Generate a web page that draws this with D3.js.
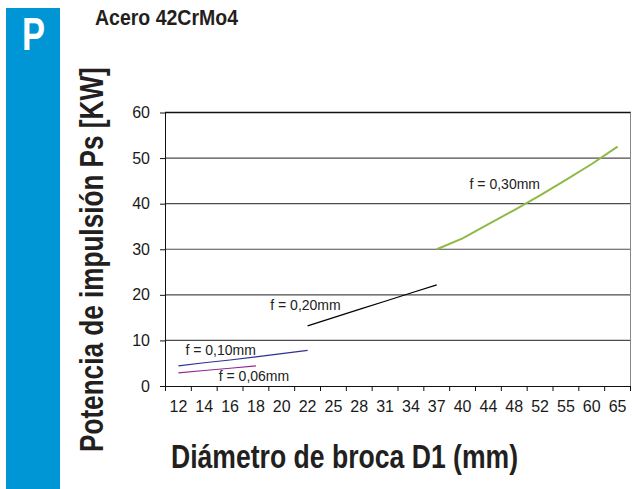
<html>
<head>
<title>Acero 42CrMo4</title>
<script src="https://d3js.org/d3.v7.min.js"></script>
<style>
    body {
        margin: 0;
        background: white;
        font-family: 'Liberation Sans', Arial, sans-serif;
    }
    svg { display: block; }
    .tick text { font-size: 16px; fill: #1a1a1a; font-family: 'Liberation Sans', Arial, sans-serif; }
</style>
</head>
<body>
<div id="chart"></div>

<script>

// drill diameters (x categories)
var diametros = ["12", "14", "16", "18", "20", "22", "25", "28", "31", "34", "37", "40", "44", "48", "52", "55", "60", "65"];

// power values per feed, null where the series has no value
var f006 = [2.9, 3.4, 3.9, 4.4, null, null, null, null, null, null, null, null, null, null, null, null, null, null];
var f010 = [4.4, 5.1, 5.7, 6.4, 7.1, 7.8, null, null, null, null, null, null, null, null, null, null, null, null];
var f020 = [null, null, null, null, null, 13.2, 15.0, 16.8, 18.6, 20.4, 22.2, null, null, null, null, null, null, null];
var f030 = [null, null, null, null, null, null, null, null, null, null, 30.0, 32.4, 35.5, 38.6, 41.8, 45.2, 48.7, 52.5];

var yTicks = [0, 10, 20, 30, 40, 50, 60];

var svg = d3.select("#chart")
    .append("svg")
    .attr("width", 632)
    .attr("height", 489);

// blue side band with the P
svg.append("rect")
    .attr("x", 6)
    .attr("y", 8)
    .attr("width", 54)
    .attr("height", 481)
    .style("fill", "#0096d6");

svg.append("text")
    .attr("x", 22)
    .attr("y", 50)
    .attr("textLength", 23)
    .attr("lengthAdjust", "spacingAndGlyphs")
    .style("font-size", "46px")
    .style("font-weight", "bold")
    .style("fill", "white")
    .text("P");

// title
svg.append("text")
    .attr("x", 95)
    .attr("y", 25)
    .attr("textLength", 143)
    .attr("lengthAdjust", "spacingAndGlyphs")
    .style("font-size", "22px")
    .style("font-weight", "bold")
    .style("fill", "#231f20")
    .text("Acero 42CrMo4");

// scales
var x = d3.scaleBand()
    .domain(diametros)
    .range([165.5, 630.5]);

var y = d3.scaleLinear()
    .domain([0, 60])
    .range([386, 112.5]);

var cx = function(d) { return x(d) + x.bandwidth() / 2; };

// grid lines
svg.selectAll(".grid")
    .data(yTicks.filter(function(t) { return t > 0 && t < 60; }))
    .enter().append("line")
    .attr("class", "grid")
    .attr("x1", 165)
    .attr("x2", 631)
    .attr("y1", function(d) { return y(d); })
    .attr("y2", function(d) { return y(d); })
    .style("stroke", "#4d4d4d")
    .style("stroke-width", "1.2px");

// plot border top + right
svg.append("line")
    .attr("x1", 165)
    .attr("x2", 631)
    .attr("y1", y(60))
    .attr("y2", y(60))
    .style("stroke", "#111")
    .style("stroke-width", "1.6px");

svg.append("line")
    .attr("x1", 630.5)
    .attr("x2", 630.5)
    .attr("y1", y(60))
    .attr("y2", y(0))
    .style("stroke", "#888")
    .style("stroke-width", "1px");

// y axis
var leftAxis = d3.axisLeft(y).tickValues(yTicks).tickSize(5).tickSizeOuter(0).tickPadding(10);
svg.append("g")
    .attr("transform", "translate(165,0)")
    .call(leftAxis)
    .call(function(g) {
        g.selectAll("line, path").style("stroke", "#111");
    });

// x axis, labels at centers, ticks at category edges
var bottomAxis = d3.axisBottom(x).tickSize(0).tickPadding(15);
svg.append("g")
    .attr("transform", "translate(0,386)")
    .call(bottomAxis)
    .call(function(g) {
        g.select(".domain").style("stroke", "#111");
    });

svg.selectAll(".xtick")
    .data(diametros.map(function(d) { return x(d); }).concat([x.range()[1]]))
    .enter().append("line")
    .attr("class", "xtick")
    .attr("x1", function(d) { return d; })
    .attr("x2", function(d) { return d; })
    .attr("y1", 386)
    .attr("y2", 391)
    .style("stroke", "#111");

// series lines
var series = [
    { vals: f006, color: "#93278f", width: 1.2 },
    { vals: f010, color: "#2e3192", width: 1.2 },
    { vals: f020, color: "#000000", width: 1.2 },
    { vals: f030, color: "#8fba45", width: 2 }
];

var line = d3.line()
    .defined(function(d) { return d.v != null; })
    .x(function(d) { return cx(d.c); })
    .y(function(d) { return y(d.v); });

series.forEach(function(s) {
    svg.append("path")
        .datum(diametros.map(function(c, i) { return { c: c, v: s.vals[i] }; }).filter(function(d) { return d.v != null; }))
        .attr("d", line)
        .style("fill", "none")
        .style("stroke", s.color)
        .style("stroke-width", s.width + "px");
});

// series labels
svg.append("text")
    .attr("x", cx("40") + 7)
    .attr("y", y(43.2))
    .style("font-size", "14px")
    .style("fill", "#222")
    .text("f = 0,30mm");

svg.append("text")
    .attr("x", cx("20") - 11.5)
    .attr("y", y(16.6))
    .style("font-size", "14px")
    .style("fill", "#222")
    .text("f = 0,20mm");

svg.append("text")
    .attr("x", cx("12") + 7)
    .attr("y", y(6.8))
    .style("font-size", "14px")
    .style("fill", "#222")
    .text("f = 0,10mm");

svg.append("text")
    .attr("x", cx("14") + 14.5)
    .attr("y", y(1.1))
    .style("font-size", "14px")
    .style("fill", "#222")
    .text("f = 0,06mm");

// axis titles
svg.append("text")
    .attr("x", 171)
    .attr("y", 468)
    .attr("textLength", 347)
    .attr("lengthAdjust", "spacingAndGlyphs")
    .style("font-size", "34px")
    .style("font-weight", "bold")
    .style("fill", "#231f20")
    .text("Diámetro de broca D1 (mm)");

// y title, squeezed to the condensed width of the original
var yTitle = svg.append("text")
    .style("font-size", "34px")
    .style("font-weight", "bold")
    .style("fill", "#231f20")
    .text("Potencia de impulsión Ps [KW]");
var yScaleX = 385 / yTitle.node().getComputedTextLength();
yTitle.attr("transform", "translate(103,452) rotate(-90) scale(" + yScaleX + ",1)");

</script>
</body>
</html>
